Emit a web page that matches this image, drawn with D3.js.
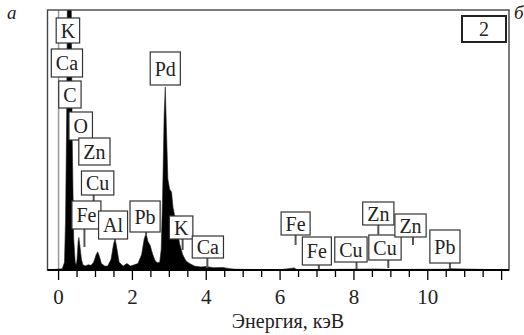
<!DOCTYPE html>
<html>
<head>
<meta charset="utf-8">
<script src="https://cdn.jsdelivr.net/npm/d3@7"></script>
</head>
<body style="margin:0; background:#fff">
<svg id="chart" width="524" height="335"></svg>
<script>
// EDS spectrum, energy in keV, intensity in % of plot height
const energy = [-0.3, 0.10, 0.16, 0.19, 0.22, 0.24, 0.34, 0.37, 0.41, 0.45, 0.48, 0.50, 0.53, 0.55, 0.58,
  0.62, 0.66, 0.72, 0.80, 0.88, 0.95, 1.02, 1.06, 1.10, 1.16, 1.25, 1.33, 1.42, 1.49, 1.53, 1.57,
  1.64, 1.75, 1.85, 1.95, 2.05, 2.15, 2.25, 2.32, 2.37, 2.42, 2.48, 2.55, 2.62, 2.68, 2.74, 2.78,
  2.82, 2.86, 2.89, 2.92, 2.96, 3.01, 3.06, 3.10, 3.16, 3.22, 3.28, 3.36, 3.45, 3.55, 3.68, 3.85,
  4.0, 4.2, 4.45, 4.6, 4.8, 5.2, 6.0, 6.38, 6.45, 7.0, 8.0, 8.6, 9.0, 10.5, 10.6, 12.2];
const counts = [0, 0.5, 3, 20, 60, 110, 110, 50, 12, 3, 2, 4, 11, 12.5, 9,
  4, 2, 1.5, 2, 1.8, 3, 6, 7, 5.5, 2.5, 1.5, 1.5, 4, 10, 12, 9,
  3, 1.5, 2.5, 1.5, 2, 2.5, 6, 12, 14, 11, 9.5, 6, 3.5, 2.8, 3, 8,
  30, 60, 70.4, 55, 35, 31, 30, 24, 20, 15, 10, 6, 3.5, 2.5, 1.5, 1.2,
  1.3, 0.9, 1, 0.6, 0.3, 0.2, 0.1, 0.8, 0.2, 0.2, 0.3, 0.4, 0.2, 0.3, 0.5, 0];

// zero-energy strobe line
const zeroEnergy = 0;

const peakNames = ['K', 'Ca', 'C', 'O', 'Zn', 'Cu', 'Fe', 'Al', 'Pb', 'Pd', 'K', 'Ca',
  'Fe', 'Fe', 'Cu', 'Cu', 'Zn', 'Zn', 'Pb'];
const peakEnergies = [0.28, 0.28, 0.28, 0.60, 0.97, 0.95, 0.70, 1.53, 2.37, 2.89, 3.36, 4.03,
  6.42, 7.05, 8.07, 8.93, 8.66, 9.60, 10.60];

const majorTicks = [0, 2, 4, 6, 8, 10];
const xTitle = 'Энергия, кэВ';
const panelNumber = '2';

// label layout: [dx from peak, box top, box height, connector length]
const labelLayout = [
  [-1, 18, 25, 0], [-2, 49, 28, 0], [1, 81, 27, 0], [0, 112, 28, 0], [0, 138, 27, 0],
  [4, 171, 24, 6], [2, 201, 28, 18], [-2, 211, 28, 2], [-1, 201, 31, 2], [0, 52, 33, 0],
  [-1.5, 216, 23, 11], [0.5, 236, 22, 10], [0, 212, 23, 10], [-2, 237, 28, 5],
  [-5.6, 237, 25, 8], [-3.3, 235, 25, 8], [0, 202, 23, 10], [-2.5, 214, 23, 8], [-5, 230, 33, 7]
];

const serif = '"Liberation Serif"';
const svg = d3.select('#chart').style('font-family', serif);
const pLeft = 47.5, pRight = 509, pTop = 10, pBottom = 270;

const x = d3.scaleLinear().domain([-0.3, 12.2]).range([pLeft, pRight]);
const y = d3.scaleLinear().domain([0, 100]).range([pBottom, pTop]);

svg.append('defs').append('clipPath').attr('id', 'plot')
  .append('rect').attr('x', pLeft).attr('y', pTop)
  .attr('width', pRight - pLeft).attr('height', pBottom - pTop);

const plot = svg.append('g').attr('clip-path', 'url(#plot)');

plot.append('line')
  .attr('x1', x(zeroEnergy)).attr('x2', x(zeroEnergy))
  .attr('y1', pTop).attr('y2', pBottom)
  .attr('stroke', '#999').attr('stroke-width', 1.5);

const spectrum = energy.map((e, i) => [e, counts[i]]);
const area = d3.area()
  .x(d => x(d[0]))
  .y0(y(0))
  .y1(d => y(d[1]));

plot.append('path')
  .datum(spectrum)
  .attr('d', area)
  .attr('fill', '#000')
  .attr('stroke', '#222')
  .attr('stroke-width', 0.6);

// peak labels
const labels = svg.append('g');
peakNames.forEach((name, i) => {
  const [dx, bt, bh, conn] = labelLayout[i];
  const px = x(peakEnergies[i]);
  const cx = px + dx;
  const g = labels.append('g');
  if (conn > 0) {
    g.append('line')
      .attr('x1', px).attr('x2', px)
      .attr('y1', bt + bh).attr('y2', bt + bh + conn)
      .attr('stroke', '#555').attr('stroke-width', 2);
  }
  const rect = g.append('rect');
  const t = g.append('text')
    .attr('x', cx).attr('y', bt + bh / 2 + 7)
    .attr('text-anchor', 'middle')
    .style('font-family', serif)
    .attr('font-size', 20)
    .attr('fill', '#222')
    .text(name);
  const w = t.node().getComputedTextLength() + 9;
  rect.attr('x', cx - w / 2).attr('y', bt)
    .attr('width', w).attr('height', bh)
    .attr('fill', '#fff').attr('stroke', '#333').attr('stroke-width', 1.2);
});

// frame
svg.append('rect')
  .attr('x', pLeft).attr('y', pTop)
  .attr('width', pRight - pLeft).attr('height', pBottom - pTop)
  .attr('fill', 'none').attr('stroke', '#444').attr('stroke-width', 1.4);

// x axis
const axis = svg.append('g').attr('transform', `translate(0,${pBottom})`);
axis.append('line')
  .attr('x1', pLeft).attr('x2', pRight)
  .attr('stroke', '#000').attr('stroke-width', 2);

axis.selectAll('line.minor')
  .data(d3.range(0, 12.01, 0.5))
  .enter().append('line')
  .attr('class', 'minor')
  .attr('x1', d => x(d)).attr('x2', d => x(d))
  .attr('y1', 0).attr('y2', d => d % 2 === 0 ? 10 : 7)
  .attr('stroke', '#000').attr('stroke-width', 1.3);

axis.selectAll('text.tick')
  .data(majorTicks)
  .enter().append('text')
  .attr('class', 'tick')
  .attr('x', d => x(d)).attr('y', 34)
  .attr('text-anchor', 'middle')
  .style('font-family', serif)
  .attr('font-size', 21)
  .attr('fill', '#222')
  .text(d => d);

svg.append('text')
  .attr('x', 288).attr('y', 328)
  .attr('text-anchor', 'middle')
  .style('font-family', serif)
  .attr('font-size', 20)
  .attr('fill', '#222')
  .text(xTitle);

// panel number box
svg.append('rect')
  .attr('x', 462).attr('y', 16).attr('width', 44).attr('height', 26)
  .attr('fill', '#fff').attr('stroke', '#222').attr('stroke-width', 2);
svg.append('text')
  .attr('x', 484).attr('y', 36)
  .attr('text-anchor', 'middle').attr('font-size', 20)
  .style('font-family', serif)
  .attr('fill', '#222')
  .text(panelNumber);

// panel letters
svg.append('text')
  .attr('x', 7).attr('y', 19)
  .attr('font-size', 19).attr('font-style', 'italic')
  .style('font-family', serif)
  .attr('fill', '#222')
  .text('а');
svg.append('text')
  .attr('x', 514).attr('y', 19)
  .attr('font-size', 19).attr('font-style', 'italic')
  .style('font-family', serif)
  .attr('fill', '#222')
  .text('б');
</script>
</body>
</html>
